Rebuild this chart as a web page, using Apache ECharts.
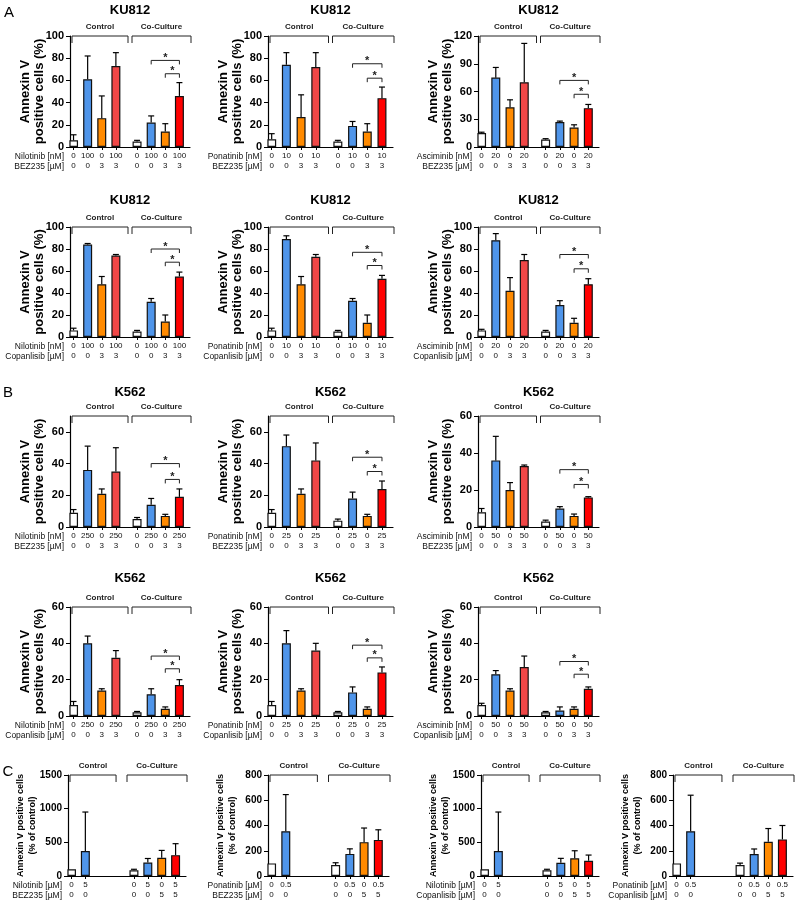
<!DOCTYPE html>
<html><head><meta charset="utf-8">
<script src="https://cdn.jsdelivr.net/npm/echarts@6/dist/echarts.min.js"></script>
<style>html,body{margin:0;padding:0;background:#fff}#c{width:800px;height:903px}</style>
</head><body><div id="c"></div>
<script>
// ---------------- DATA ----------------
// tick label sets
const ticks100 = [0, 20, 40, 60, 80, 100];
const ticks120 = [0, 30, 60, 90, 120];
const ticks60 = [0, 20, 40, 60];
const ticks1500 = [0, 500, 1000, 1500];
const ticks800 = [0, 200, 400, 600, 800];

// dose labels
const nilo100 = ['0', '100', '0', '100'];
const pona10 = ['0', '10', '0', '10'];
const asci20 = ['0', '20', '0', '20'];
const nilo250 = ['0', '250', '0', '250'];
const pona25 = ['0', '25', '0', '25'];
const asci50 = ['0', '50', '0', '50'];
const comb3 = ['0', '0', '3', '3'];
const niloC_ctrl = ['0', '5'], niloC_co = ['0', '5', '0', '5'];
const ponaC_ctrl = ['0', '0.5'], ponaC_co = ['0', '0.5', '0', '0.5'];
const combC_ctrl = ['0', '0'], combC_co = ['0', '0', '5', '5'];
const groupNames = ['Control', 'Co-Culture'];

// A: KU812
const A1_ctrl = [6, 61, 26, 73], A1_ctrlErr = [5, 21, 20, 12], A1_co = [5, 22, 14, 46], A1_coErr = [1, 6, 7, 12], A1_sig = [78, 66];
const A2_ctrl = [7, 74, 27, 72], A2_ctrlErr = [5, 11, 20, 13], A2_co = [5, 19, 14, 44], A2_coErr = [1, 4, 7, 10], A2_sig = [75, 62];
const A3_ctrl = [15, 75, 43, 70], A3_ctrlErr = [1, 11, 8, 42], A3_co = [8, 27, 21, 42], A3_coErr = [1, 1, 3, 4], A3_sig = [72, 57];
const A4_ctrl = [6, 84, 48, 74], A4_ctrlErr = [2, 1, 7, 1], A4_co = [5, 32, 14, 55], A4_coErr = [1, 3, 6, 4], A4_sig = [80, 68];
const A5_ctrl = [6, 89, 48, 73], A5_ctrlErr = [2, 3, 7, 2], A5_co = [5, 33, 13, 53], A5_coErr = [1, 2, 7, 3], A5_sig = [77, 65];
const A6_ctrl = [6, 88, 42, 70], A6_ctrlErr = [1, 6, 12, 5], A6_co = [5, 29, 13, 48], A6_coErr = [1, 4, 4, 5], A6_sig = [75, 62];
// B: K562
const B1_ctrl = [9, 36, 21, 35], B1_ctrlErr = [2, 15, 3, 15], B1_co = [5, 14, 7, 19], B1_coErr = [1, 4, 1, 5], B1_sig = [40, 30];
const B2_ctrl = [9, 51, 21, 42], B2_ctrlErr = [2, 7, 3, 11], B2_co = [4, 18, 7, 24], B2_coErr = [1, 4, 1, 5], B2_sig = [44, 35];
const B3_ctrl = [8, 36, 20, 33], B3_ctrlErr = [2, 13, 4, 0.5], B3_co = [3, 10, 6, 16], B3_coErr = [0.7, 1, 1, 0.4], B3_sig = [31, 23];
const B4_ctrl = [6, 40, 14, 32], B4_ctrlErr = [2, 4, 1, 4], B4_co = [2, 12, 4, 17], B4_coErr = [0.5, 3, 1, 3], B4_sig = [33, 26];
const B5_ctrl = [6, 40, 14, 36], B5_ctrlErr = [2, 7, 1, 4], B5_co = [2, 13, 4, 24], B5_coErr = [0.5, 3, 1, 3], B5_sig = [39, 32];
const B6_ctrl = [6, 23, 14, 27], B6_ctrlErr = [1, 2, 1, 6], B6_co = [2, 3, 4, 15], B6_coErr = [0.5, 2, 1, 1], B6_sig = [30, 23];
// C: % of control
const C1_ctrl = [100, 370], C1_ctrlErr = [0, 580], C1_co = [85, 200, 270, 310], C1_coErr = [15, 60, 110, 170];
const C2_ctrl = [100, 355], C2_ctrlErr = [0, 290], C2_co = [87, 175, 268, 286], C2_coErr = [18, 40, 112, 80];
const C3_ctrl = [100, 370], C3_ctrlErr = [0, 580], C3_co = [85, 197, 262, 227], C3_coErr = [15, 65, 113, 84];
const C4_ctrl = [100, 355], C4_ctrlErr = [0, 285], C4_co = [87, 174, 271, 290], C4_coErr = [15, 40, 105, 110];

// ---------------- LAYOUT / STYLE ----------------
const FONT = 'Arial, "Liberation Sans", Helvetica, sans-serif';
const CTRL_SLOTS = [0, 2, 4, 6], CO_SLOTS = [9, 11, 13, 15], NSLOTS = 17;
const ctrlColors = ['#ffffff', '#4f95ea', '#ff8a00', '#f04747'];
const coColors = ['#ffffff', '#4f95ea', '#ff8a00', '#ff0000'];
const rows = [
  { top: 36, h: 111, titleY: 10 },
  { top: 227, h: 110, titleY: 200 },
  { top: 416, h: 111, titleY: 392 },
  { top: 607, h: 109, titleY: 578 },
  { top: 775, h: 101, titleY: null }
];
const colsAB = [{ left: 70, w: 120 }, { left: 268, w: 125 }, { left: 478, w: 121 }];
const colsC = [{ left: 68, w: 118 }, { left: 268, w: 121 }, { left: 481, w: 118 }, { left: 673, w: 120 }];

function P(row, col, title, d1, dose1, d2, dose2, ctrl, ctrlErr, co, coErr, sig, ticks, max) {
  return { row, col, title, d1, dose1, d2, dose2, ctrl, ctrlErr, co, coErr, sig, ticks, max };
}
const panels = [
  P(0, 0, 'KU812', 'Nilotinib [nM]', nilo100.concat(nilo100), 'BEZ235 [µM]', comb3.concat(comb3), A1_ctrl, A1_ctrlErr, A1_co, A1_coErr, A1_sig, ticks100, 100),
  P(0, 1, 'KU812', 'Ponatinib [nM]', pona10.concat(pona10), 'BEZ235 [µM]', comb3.concat(comb3), A2_ctrl, A2_ctrlErr, A2_co, A2_coErr, A2_sig, ticks100, 100),
  P(0, 2, 'KU812', 'Asciminib [nM]', asci20.concat(asci20), 'BEZ235 [µM]', comb3.concat(comb3), A3_ctrl, A3_ctrlErr, A3_co, A3_coErr, A3_sig, ticks120, 120),
  P(1, 0, 'KU812', 'Nilotinib [nM]', nilo100.concat(nilo100), 'Copanlisib [µM]', comb3.concat(comb3), A4_ctrl, A4_ctrlErr, A4_co, A4_coErr, A4_sig, ticks100, 100),
  P(1, 1, 'KU812', 'Ponatinib [nM]', pona10.concat(pona10), 'Copanlisib [µM]', comb3.concat(comb3), A5_ctrl, A5_ctrlErr, A5_co, A5_coErr, A5_sig, ticks100, 100),
  P(1, 2, 'KU812', 'Asciminib [nM]', asci20.concat(asci20), 'Copanlisib [µM]', comb3.concat(comb3), A6_ctrl, A6_ctrlErr, A6_co, A6_coErr, A6_sig, ticks100, 100),
  P(2, 0, 'K562', 'Nilotinib [nM]', nilo250.concat(nilo250), 'BEZ235 [µM]', comb3.concat(comb3), B1_ctrl, B1_ctrlErr, B1_co, B1_coErr, B1_sig, ticks60, 70),
  P(2, 1, 'K562', 'Ponatinib [nM]', pona25.concat(pona25), 'BEZ235 [µM]', comb3.concat(comb3), B2_ctrl, B2_ctrlErr, B2_co, B2_coErr, B2_sig, ticks60, 70),
  P(2, 2, 'K562', 'Asciminib [nM]', asci50.concat(asci50), 'BEZ235 [µM]', comb3.concat(comb3), B3_ctrl, B3_ctrlErr, B3_co, B3_coErr, B3_sig, ticks60, 60),
  P(3, 0, 'K562', 'Nilotinib [nM]', nilo250.concat(nilo250), 'Copanlisib [µM]', comb3.concat(comb3), B4_ctrl, B4_ctrlErr, B4_co, B4_coErr, B4_sig, ticks60, 60),
  P(3, 1, 'K562', 'Ponatinib [nM]', pona25.concat(pona25), 'Copanlisib [µM]', comb3.concat(comb3), B5_ctrl, B5_ctrlErr, B5_co, B5_coErr, B5_sig, ticks60, 60),
  P(3, 2, 'K562', 'Asciminib [nM]', asci50.concat(asci50), 'Copanlisib [µM]', comb3.concat(comb3), B6_ctrl, B6_ctrlErr, B6_co, B6_coErr, B6_sig, ticks60, 60),
  P(4, 0, null, 'Nilotinib [µM]', niloC_ctrl.concat(niloC_co), 'BEZ235 [µM]', combC_ctrl.concat(combC_co), C1_ctrl, C1_ctrlErr, C1_co, C1_coErr, null, ticks1500, 1500),
  P(4, 1, null, 'Ponatinib [µM]', ponaC_ctrl.concat(ponaC_co), 'BEZ235 [µM]', combC_ctrl.concat(combC_co), C2_ctrl, C2_ctrlErr, C2_co, C2_coErr, null, ticks800, 800),
  P(4, 2, null, 'Nilotinib [µM]', niloC_ctrl.concat(niloC_co), 'Copanlisib [µM]', combC_ctrl.concat(combC_co), C3_ctrl, C3_ctrlErr, C3_co, C3_coErr, null, ticks1500, 1500),
  P(4, 3, null, 'Ponatinib [µM]', ponaC_ctrl.concat(ponaC_co), 'Copanlisib [µM]', combC_ctrl.concat(combC_co), C4_ctrl, C4_ctrlErr, C4_co, C4_coErr, null, ticks800, 800)
];

// ---------------- RENDERERS ----------------
const LINE = { stroke: '#000', lineWidth: 1.2 };
function errRender(params, api) {
  const e = api.value(2);
  if (!(e > 0)) return { type: 'group', children: [] };
  const x = api.value(0), v = api.value(1);
  const p0 = api.coord([x, v]), p1 = api.coord([x, v + e]);
  return { type: 'group', children: [
    { type: 'line', shape: { x1: p0[0], y1: p0[1], x2: p1[0], y2: p1[1] }, style: LINE },
    { type: 'line', shape: { x1: p1[0] - 3, y1: p1[1], x2: p1[0] + 3, y2: p1[1] }, style: LINE }
  ] };
}
function sigRender(params, api) {
  const a = api.coord([api.value(0), api.value(1)]);
  const b = api.coord([api.value(2), api.value(1)]);
  const y = a[1];
  return { type: 'group', children: [
    { type: 'polyline', shape: { points: [[a[0], y + 4], [a[0], y], [b[0], y], [b[0], y + 4]] }, style: { stroke: '#222', lineWidth: 1, fill: null } },
    { type: 'text', x: (a[0] + b[0]) / 2, y: y + 3, style: { text: '*', font: 'bold 11px ' + FONT, fill: '#222', align: 'center', verticalAlign: 'bottom', textAlign: 'center', textVerticalAlign: 'bottom' } }
  ] };
}
function makeGroupRender(isC) {
  return function (params, api) {
    const cs = params.coordSys;
    const kind = api.value(2);
    const y = api.coord([0, api.value(1)])[1];
    const c7 = api.coord([7, 0])[0], c8 = api.coord([8, 0])[0];
    let xL, xR;
    if (kind === 0) { xL = cs.x + 2; xR = isC ? c7 - 4 : c8 - 2; }
    else { xL = isC ? c8 : c8 + 2; xR = cs.x + cs.width + 1; }
    return { type: 'group', children: [
      { type: 'polyline', shape: { points: [[xL, y + 7], [xL, y], [xR, y], [xR, y + 7]] }, style: { stroke: '#222', lineWidth: 1, fill: null } },
      { type: 'text', x: (xL + xR) / 2, y: y - 9, style: { text: groupNames[kind], font: 'bold 8px ' + FONT, fill: '#222', align: 'center', verticalAlign: 'middle', textAlign: 'center', textVerticalAlign: 'middle' } }
    ] };
  };
}

// ---------------- BUILD OPTION ----------------
const grid = [], xAxis = [], yAxis = [], series = [], graphic = [];
panels.forEach((p, i) => {
  const isC = p.row === 4;
  const col = (isC ? colsC : colsAB)[p.col];
  const row = rows[p.row];
  grid.push({ left: col.left, top: row.top, width: col.w, height: row.h, containLabel: false, outerBoundsMode: 'none' });
  const ctrlSlots = CTRL_SLOTS.slice(0, p.ctrl.length);
  const used = ctrlSlots.concat(CO_SLOTS);
  const lab1 = {}, lab2 = {};
  used.forEach((s, k) => { lab1[s] = p.dose1[k]; lab2[s] = p.dose2[k]; });
  const show = (idx) => Object.prototype.hasOwnProperty.call(lab1, idx);
  xAxis.push({
    gridIndex: i, type: 'category', boundaryGap: true,
    data: Array.from({ length: NSLOTS }, (_, k) => String(k)),
    axisLine: { show: true, lineStyle: { color: '#000', width: 1.2 } },
    axisTick: { show: true, alignWithLabel: true, length: 3, interval: show, lineStyle: { color: '#000', width: 1 } },
    axisLabel: { show: true, interval: show, formatter: (v, idx) => lab1[idx] + '\n' + lab2[idx],
      fontSize: 8, lineHeight: 10, margin: 4, color: '#111', fontFamily: FONT },
    splitLine: { show: false }
  });
  yAxis.push({
    gridIndex: i, type: 'value', min: 0, max: p.max,
    axisLine: { show: true, lineStyle: { color: '#000', width: 1.2 } },
    axisTick: { show: true, length: 4, customValues: p.ticks, lineStyle: { color: '#000', width: 1 } },
    axisLabel: { show: true, customValues: p.ticks, formatter: (v) => String(v), fontSize: isC ? 10 : 11, fontWeight: 'bold', color: '#000', margin: 6, fontFamily: FONT },
    splitLine: { show: false },
    name: isC ? 'Annexin V positive cells\n(% of control)' : 'Annexin V\npositive cells (%)',
    nameLocation: 'middle', nameRotate: 90, nameGap: isC ? 41 : 38, nameMoveOverlap: false,
    nameTextStyle: { fontSize: isC ? 9 : 13, fontWeight: 'bold', lineHeight: isC ? 12 : 14, verticalAlign: 'middle', align: 'center', color: '#000', fontFamily: FONT }
  });
  const barData = new Array(NSLOTS).fill('-');
  ctrlSlots.forEach((s, k) => { barData[s] = { value: p.ctrl[k], itemStyle: { color: ctrlColors[k] } }; });
  CO_SLOTS.forEach((s, k) => { barData[s] = { value: p.co[k], itemStyle: { color: coColors[k] } }; });
  series.push({ type: 'bar', xAxisIndex: i, yAxisIndex: i, barWidth: 9, data: barData,
    itemStyle: { borderColor: '#111', borderWidth: 1.2 }, silent: true, z: 2 });
  const errData = [];
  ctrlSlots.forEach((s, k) => errData.push([s, p.ctrl[k], p.ctrlErr[k]]));
  CO_SLOTS.forEach((s, k) => errData.push([s, p.co[k], p.coErr[k]]));
  series.push({ type: 'custom', xAxisIndex: i, yAxisIndex: i, data: errData, renderItem: errRender, z: 3, silent: true, clip: false });
  series.push({ type: 'custom', xAxisIndex: i, yAxisIndex: i, data: [[0, p.max, 0], [8, p.max, 1]], renderItem: makeGroupRender(isC), z: 4, silent: true, clip: false });
  if (p.sig) {
    series.push({ type: 'custom', xAxisIndex: i, yAxisIndex: i, data: [[11, p.sig[0], 15], [13, p.sig[1], 15]], renderItem: sigRender, z: 4, silent: true, clip: false });
  }
  // panel title
  if (p.title) {
    graphic.push({ type: 'text', x: col.left + col.w / 2, y: row.titleY,
      style: { text: p.title, font: 'bold 13px ' + FONT, fill: '#000', align: 'center', verticalAlign: 'middle', textAlign: 'center', textVerticalAlign: 'middle' } });
  }
  // dose row names
  const base = row.top + row.h;
  [[p.d1, 9.5], [p.d2, 19.5]].forEach(([t, dy]) => {
    graphic.push({ type: 'text', x: col.left - 6, y: base + dy,
      style: { text: t, font: '8.5px ' + FONT, fill: '#111', align: 'right', verticalAlign: 'middle', textAlign: 'right', textVerticalAlign: 'middle' } });
  });
});
[['A', 9, 13], ['B', 8, 393], ['C', 8, 772]].forEach(([t, x, y]) => {
  graphic.push({ type: 'text', x, y, style: { text: t, font: '15px ' + FONT, fill: '#000', align: 'center', verticalAlign: 'middle', textAlign: 'center', textVerticalAlign: 'middle' } });
});

const chart = echarts.init(document.getElementById('c'), null, { renderer: 'canvas', width: 800, height: 903 });
chart.setOption({
  animation: false,
  backgroundColor: '#ffffff',
  textStyle: { fontFamily: FONT },
  grid, xAxis, yAxis, series, graphic
});
</script>
</body></html>
